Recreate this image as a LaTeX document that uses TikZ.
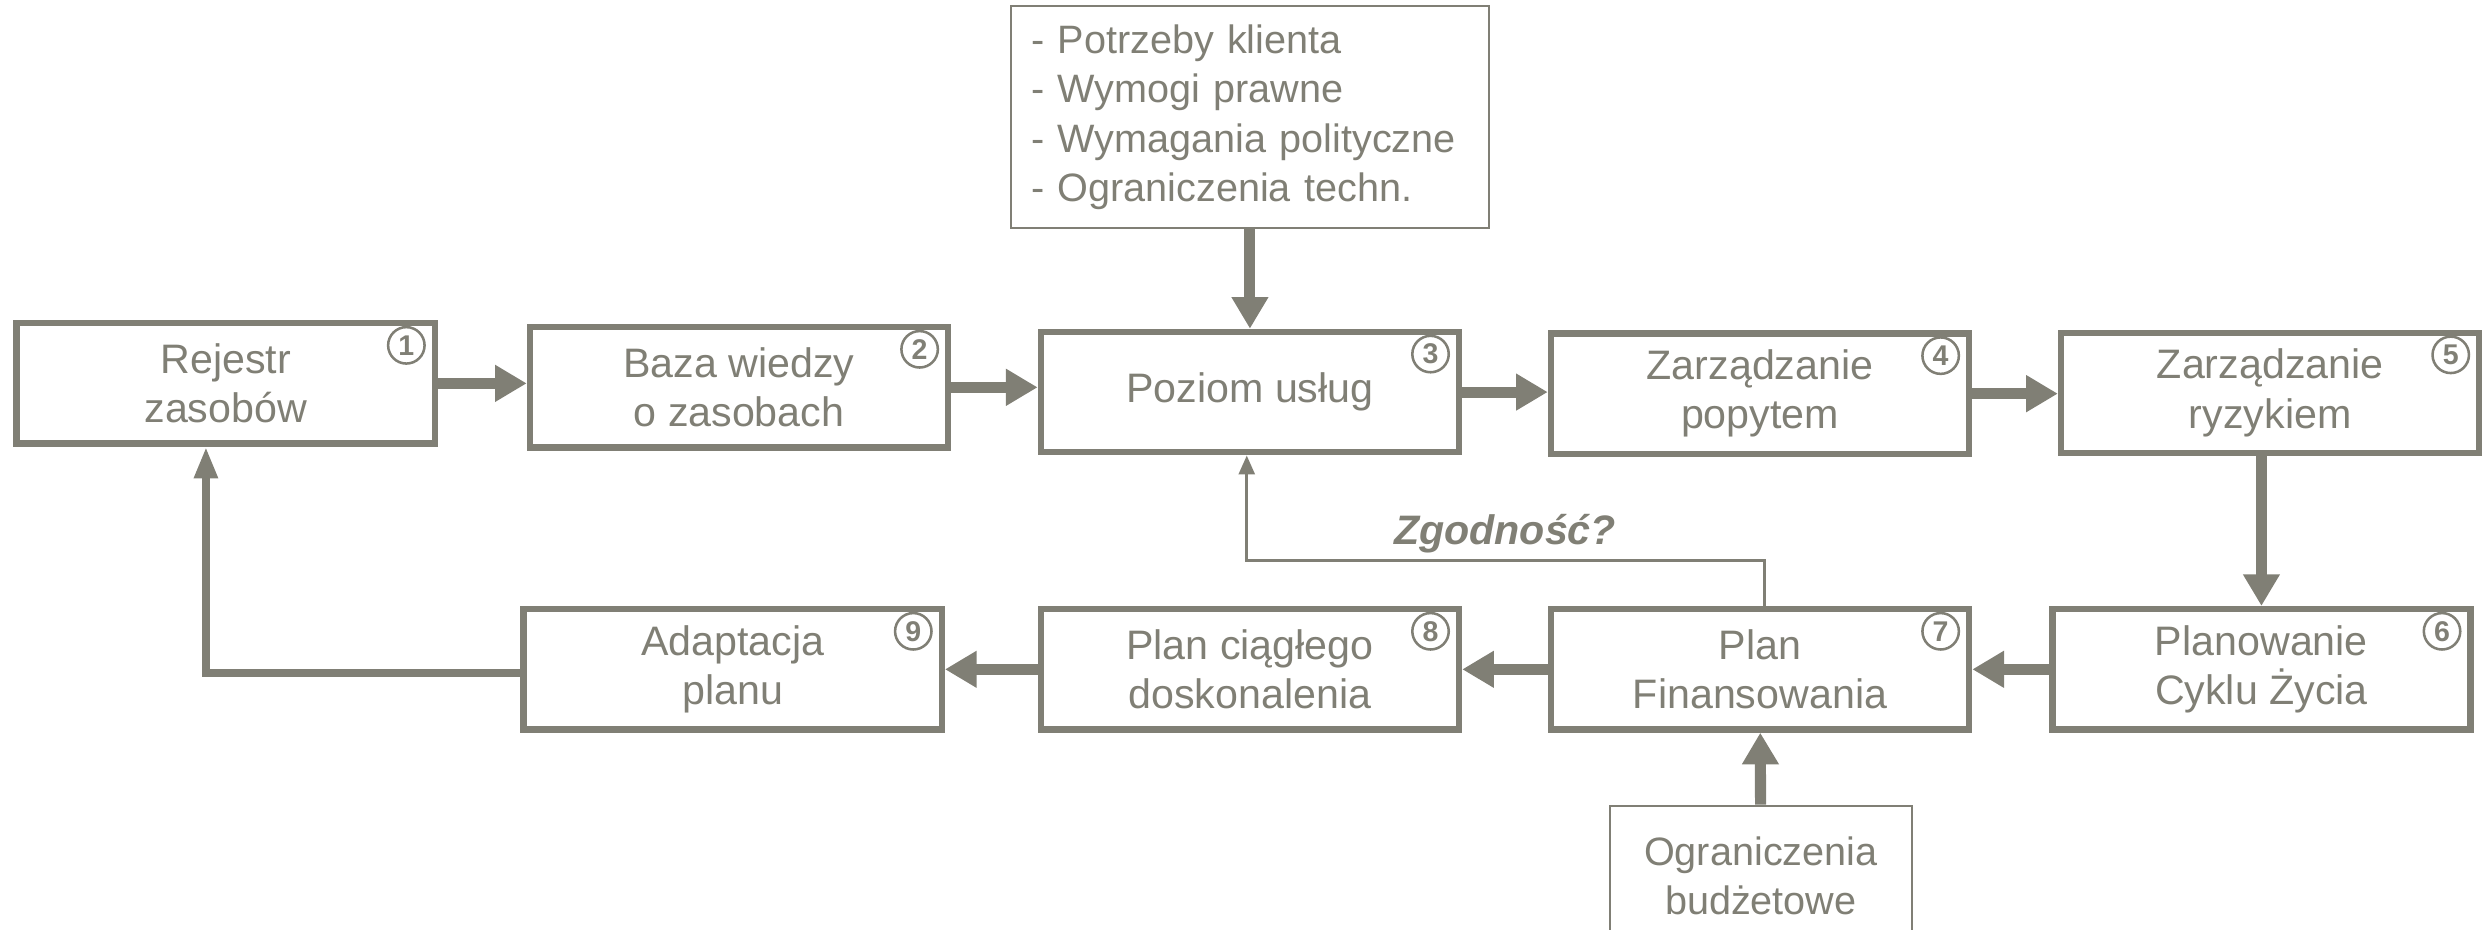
\documentclass[tikz,border=0pt]{standalone}
\usepackage{fontspec}
\setmainfont{Liberation Sans}
\usetikzlibrary{arrows.meta}
\definecolor{szary}{RGB}{128,127,117}

\begin{document}
\begin{tikzpicture}[x=0.5pt,y=0.5pt,yscale=-1,xscale=1,
  etap/.style={draw=szary,line width=2pt,minimum width=132pt,minimum height=38pt,align=center,text=szary,font=\fontsize{13}{15.5}\selectfont,inner sep=0pt},
  nr/.style={draw=szary,line width=0.8pt,circle,minimum size=11.5pt,inner sep=0pt,text=szary,font=\fontsize{9}{9}\selectfont\bfseries},
  opis/.style={draw=szary,line width=0.6pt,text=szary,font=\fontsize{12.5}{15.5}\selectfont},
  strzalka/.style={draw=szary,line width=3.5pt,-{Triangle[width=11pt,length=10pt]}},
  powrot/.style={draw=szary,line width=2.5pt,-{Triangle[width=7pt,length=10pt]}},
  zgodnosc/.style={draw=szary,line width=1pt,-{Triangle[width=5pt,length=6pt]}}
]
\useasboundingbox (0,0) rectangle (1568,587);
\clip (0,0) rectangle (1568,587);

%Upper row
\node[etap] (rejestr) at (142.5,242) {Rejestr\\zasobów};
\node[etap] (baza) at (466.5,244.5) {Baza wiedzy\\o zasobach};
\node[etap] (poziom) at (789,247.5) {Poziom usług};
\node[etap] (popyt) at (1111,248.5) {Zarządzanie\\popytem};
\node[etap] (ryzyko) at (1433,248) {Zarządzanie\\ryzykiem};
%Lower row
\node[etap] (cykl) at (1427.5,422.5) {Planowanie\\Cyklu Życia};
\node[etap] (finanse) at (1111,422.5) {Plan\\Finansowania};
\node[etap] (doskonalenie) at (789,422.5) {Plan ciągłego\\doskonalenia};
\node[etap] (adaptacja) at (462.5,422.5) {Adaptacja\\planu};

%Numbers
\node[nr] (n1) at ([xshift=-10pt,yshift=8pt]rejestr.north east) {1};
\node[nr] (n2) at ([xshift=-10pt,yshift=8pt]baza.north east) {2};
\node[nr] (n3) at ([xshift=-10pt,yshift=8pt]poziom.north east) {3};
\node[nr] (n4) at ([xshift=-10pt,yshift=8pt]popyt.north east) {4};
\node[nr] (n5) at ([xshift=-10pt,yshift=8pt]ryzyko.north east) {5};
\node[nr] (n6) at ([xshift=-10pt,yshift=8pt]cykl.north east) {6};
\node[nr] (n7) at ([xshift=-10pt,yshift=8pt]finanse.north east) {7};
\node[nr] (n8) at ([xshift=-10pt,yshift=8pt]doskonalenie.north east) {8};
\node[nr] (n9) at ([xshift=-10pt,yshift=8pt]adaptacja.north east) {9};

%Inputs
\node[opis,text width=138pt,align=left,inner xsep=6.5pt,inner ysep=3pt,minimum height=70pt] (wymagania) at (789,74)
  {- Potrzeby klienta\\- Wymogi prawne\\- Wymagania polityczne\\- Ograniczenia techn.};
\node[opis,minimum width=95.5pt,minimum height=44.5pt,align=center] (budzet) at (1111.5,553) {Ograniczenia\\budżetowe};

%Flow
\draw[strzalka] (rejestr.east) -- (rejestr.east -| baza.west);
\draw[strzalka] (baza.east) -- (baza.east -| poziom.west);
\draw[strzalka] (poziom.east) -- (poziom.east -| popyt.west);
\draw[strzalka] (popyt.east) -- (popyt.east -| ryzyko.west);
\draw[strzalka] (cykl.north |- ryzyko.south) -- (cykl.north);
\draw[strzalka] (cykl.west) -- (finanse.east);
\draw[strzalka] (finanse.west) -- (doskonalenie.east);
\draw[strzalka] (doskonalenie.west) -- (adaptacja.east);
\draw[strzalka] (wymagania) -- (poziom);
\draw[strzalka] (budzet) -- (finanse);

%Back to the register
\coordinate (wroc) at (130,425);
\draw[powrot] (adaptacja.west |- wroc) -- (wroc) -- (wroc |- rejestr.south);

%Compliance check
\coordinate (zgA) at (1114,354);
\coordinate (zgB) at (787,354);
\draw[zgodnosc] (zgA |- finanse.north) -- (zgA) -- (zgB) -- (zgB |- poziom.south);
\node[text=szary,font=\fontsize{13}{15}\selectfont\bfseries\itshape] (pytanie) at (950,337) {Zgodność?};
\end{tikzpicture}
\end{document}
